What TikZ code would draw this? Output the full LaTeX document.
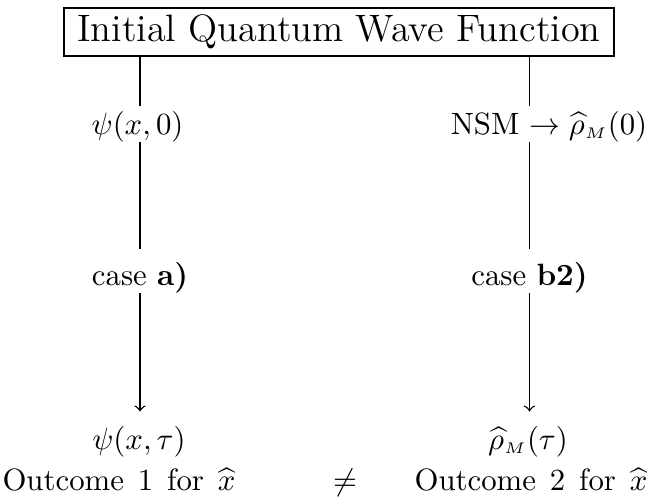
\documentclass[tikz,border=0pt]{standalone}
\usepackage{amsmath}
\begin{document}
\begin{tikzpicture}[x=0.3247pt,y=-0.3247pt,
  lbl/.style={inner sep=0pt, anchor=base},
  titlebox/.style={draw, line width=0.9pt, inner sep=0pt, minimum width=178.6pt, minimum height=15.6pt, font=\fontsize{12.4}{15}\selectfont},
  conn/.style={line width=0.45pt},
  arr/.style={->, line width=0.45pt}]
\useasboundingbox (0,0) rectangle (650,498);
\node[titlebox] (title) at (339,32) {Initial Quantum Wave Function};
% left column
\node[lbl] (psi0) at (137.5,134) {$\psi(x,0)$};
\node[lbl] (casea) at (140,285) {case \textbf{a)}};
\node[lbl] (psiT) at (139,449) {$\psi(x,\tau)$};
\node[lbl] (out1) at (119,490) {{\spaceskip=4.5pt Outcome 1 for $\widehat{x}$}};
% right column
\node[lbl] (nsm) at (549,134) {NSM $\rightarrow\widehat{\rho}_{\scriptscriptstyle M}(0)$};
\node[lbl] (caseb) at (529.5,285) {case \textbf{b2)}};
\node[lbl] (rhoT) at (528,449) {$\widehat{\rho}_{\scriptscriptstyle M}(\tau)$};
\node[lbl] (out2) at (531,490) {{\spaceskip=4.5pt Outcome 2 for $\widehat{x}$}};
\node[lbl] (neq) at (345,490) {$\neq$};
% left connectors
\draw[conn] (title.south -| casea) -- ([yshift=1.5pt]psi0.north -| casea);
\draw[conn] (psi0.south -| casea) -- ([yshift=4pt]casea.north);
\draw[arr] (casea.south) -- ([yshift=4.5pt]psiT.north -| casea);
% right connectors
\draw[conn] (title.south -| caseb) -- ([yshift=1.5pt]nsm.north -| caseb);
\draw[conn] (nsm.south -| caseb) -- ([yshift=4pt]caseb.north);
\draw[arr] (caseb.south) -- ([yshift=4.5pt]rhoT.north -| caseb);
\end{tikzpicture}
\end{document}
